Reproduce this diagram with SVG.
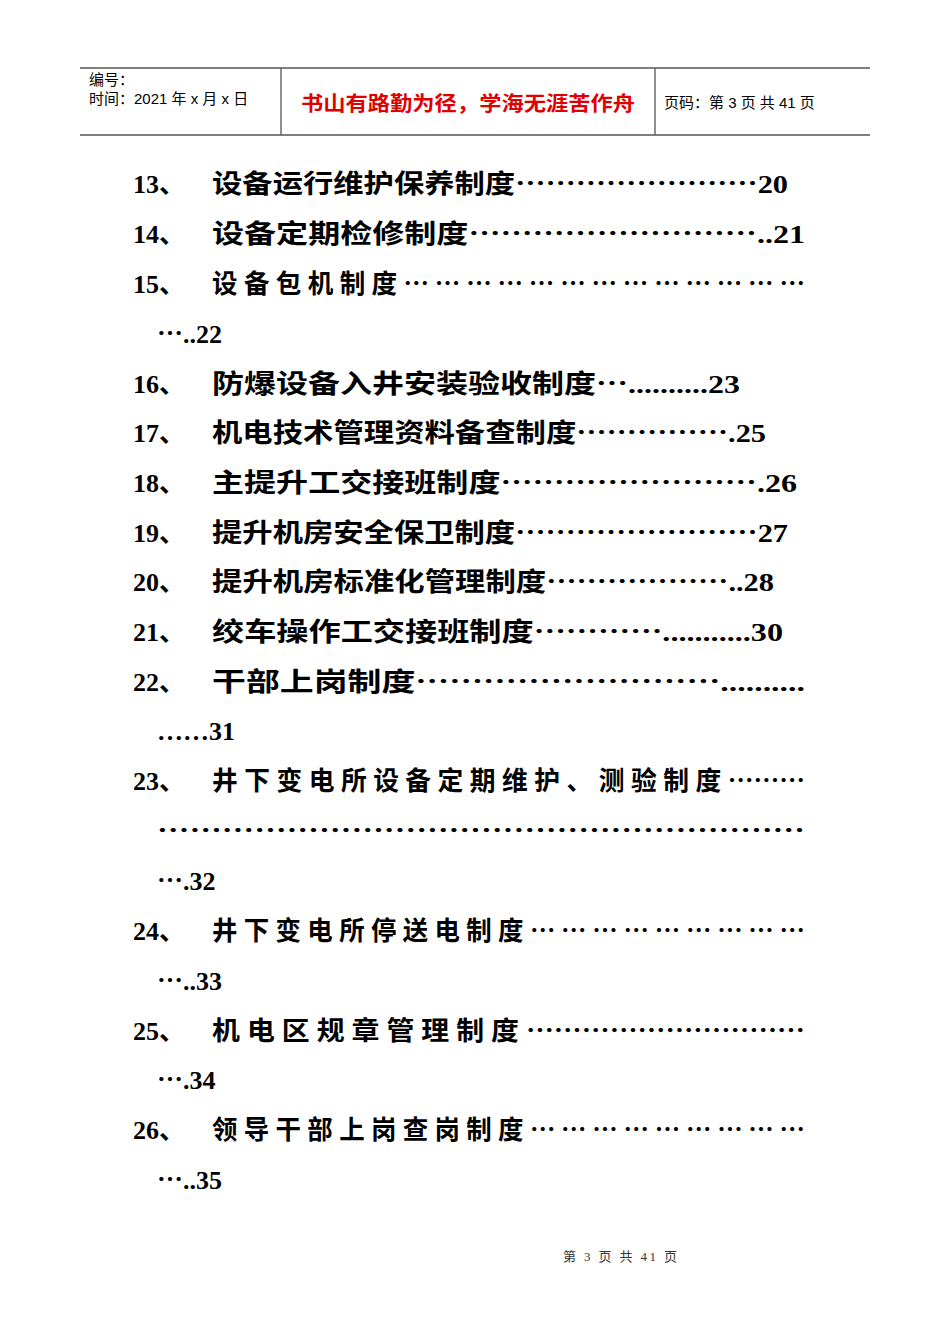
<svg xmlns="http://www.w3.org/2000/svg" width="950" height="1344" viewBox="0 0 950 1344">
<style>
.h{font-family:"Liberation Sans","Noto Sans CJK SC",sans-serif;font-size:15px;fill:#000}
.r{font-family:"Noto Sans CJK SC",sans-serif;font-size:20px;fill:#e00000;font-weight:bold}
.t{font-family:"Liberation Serif","Noto Sans CJK SC",serif;font-size:26px;font-weight:bold;fill:#000}
.e{font-family:"Noto Sans CJK SC",sans-serif}
.f{font-family:"Liberation Serif","Noto Sans CJK SC",serif;font-size:13px;fill:#333}
</style>
<rect width="950" height="1344" fill="#fff"/>
<g id="header" stroke="#555" stroke-width="1.3">
<line x1="80" y1="68" x2="870" y2="68"/>
<line x1="80" y1="135" x2="870" y2="135"/>
<line x1="281" y1="68" x2="281" y2="135"/>
<line x1="655" y1="68" x2="655" y2="135"/>
</g>
<text class="h" x="89" y="85">编号：</text>
<text class="h" x="89" y="104">时间：2021 年 x 月 x 日</text>
<text class="r" x="301" y="111" textLength="334" lengthAdjust="spacingAndGlyphs">书山有路勤为径，学海无涯苦作舟</text>
<text class="h" x="664" y="108">页码：第 3 页  共 41 页</text>
<g id="toc">
<text class="t" x="133" y="193">13、</text><text class="t" x="212" y="193" textLength="576" lengthAdjust="spacingAndGlyphs">设备运行维护保养制度<tspan class="e">……………………</tspan>20</text>
<text class="t" x="133" y="243">14、</text><text class="t" x="212" y="243" textLength="593" lengthAdjust="spacingAndGlyphs">设备定期检修制度<tspan class="e">………………………</tspan>..21</text>
<text class="t" x="133" y="293">15、</text><text class="t" x="212" y="293" textLength="593" lengthAdjust="spacingAndGlyphs">设 备 包 机 制 度 <tspan class="e">… … … … … … … … … … … … …</tspan></text>
<text class="t" x="157" y="343"><tspan class="e">…</tspan>..22</text>
<text class="t" x="133" y="393">16、</text><text class="t" x="212" y="393" textLength="528" lengthAdjust="spacingAndGlyphs">防爆设备入井安装验收制度<tspan class="e">…</tspan>..........23</text>
<text class="t" x="133" y="442">17、</text><text class="t" x="212" y="442" textLength="554" lengthAdjust="spacingAndGlyphs">机电技术管理资料备查制度<tspan class="e">……………</tspan>.25</text>
<text class="t" x="133" y="492">18、</text><text class="t" x="212" y="492" textLength="585" lengthAdjust="spacingAndGlyphs">主提升工交接班制度<tspan class="e">……………………</tspan>.26</text>
<text class="t" x="133" y="542">19、</text><text class="t" x="212" y="542" textLength="576" lengthAdjust="spacingAndGlyphs">提升机房安全保卫制度<tspan class="e">……………………</tspan>27</text>
<text class="t" x="133" y="591">20、</text><text class="t" x="212" y="591" textLength="562" lengthAdjust="spacingAndGlyphs">提升机房标准化管理制度<tspan class="e">………………</tspan>..28</text>
<text class="t" x="133" y="641">21、</text><text class="t" x="212" y="641" textLength="571" lengthAdjust="spacingAndGlyphs">绞车操作工交接班制度<tspan class="e">…………</tspan>...........30</text>
<text class="t" x="133" y="691">22、</text><text class="t" x="212" y="691" textLength="593" lengthAdjust="spacingAndGlyphs">干部上岗制度<tspan class="e">………………………</tspan>..........</text>
<text class="t" x="157" y="740">……31</text>
<text class="t" x="133" y="790">23、</text><text class="t" x="212" y="790" textLength="593" lengthAdjust="spacingAndGlyphs">井 下 变 电 所 设 备 定 期 维 护 、 测 验 制 度 <tspan class="e">………</tspan></text>
<text class="t" x="157" y="840" textLength="648" lengthAdjust="spacingAndGlyphs"><tspan class="e">……………………………………………………</tspan></text>
<text class="t" x="157" y="890"><tspan class="e">…</tspan>.32</text>
<text class="t" x="133" y="940">24、</text><text class="t" x="212" y="940" textLength="593" lengthAdjust="spacingAndGlyphs">井 下 变 电 所 停 送 电 制 度 <tspan class="e">… … … … … … … … …</tspan></text>
<text class="t" x="157" y="990"><tspan class="e">…</tspan>..33</text>
<text class="t" x="133" y="1040">25、</text><text class="t" x="212" y="1040" textLength="593" lengthAdjust="spacingAndGlyphs">机 电 区 规 章 管 理 制 度 <tspan class="e">…………………………</tspan></text>
<text class="t" x="157" y="1089"><tspan class="e">…</tspan>.34</text>
<text class="t" x="133" y="1139">26、</text><text class="t" x="212" y="1139" textLength="593" lengthAdjust="spacingAndGlyphs">领 导 干 部 上 岗 查 岗 制 度 <tspan class="e">… … … … … … … … …</tspan></text>
<text class="t" x="157" y="1189"><tspan class="e">…</tspan>..35</text>
</g>
<text class="f" x="563" y="1261" textLength="114" lengthAdjust="spacing">第 3 页 共 41 页</text>
</svg>
